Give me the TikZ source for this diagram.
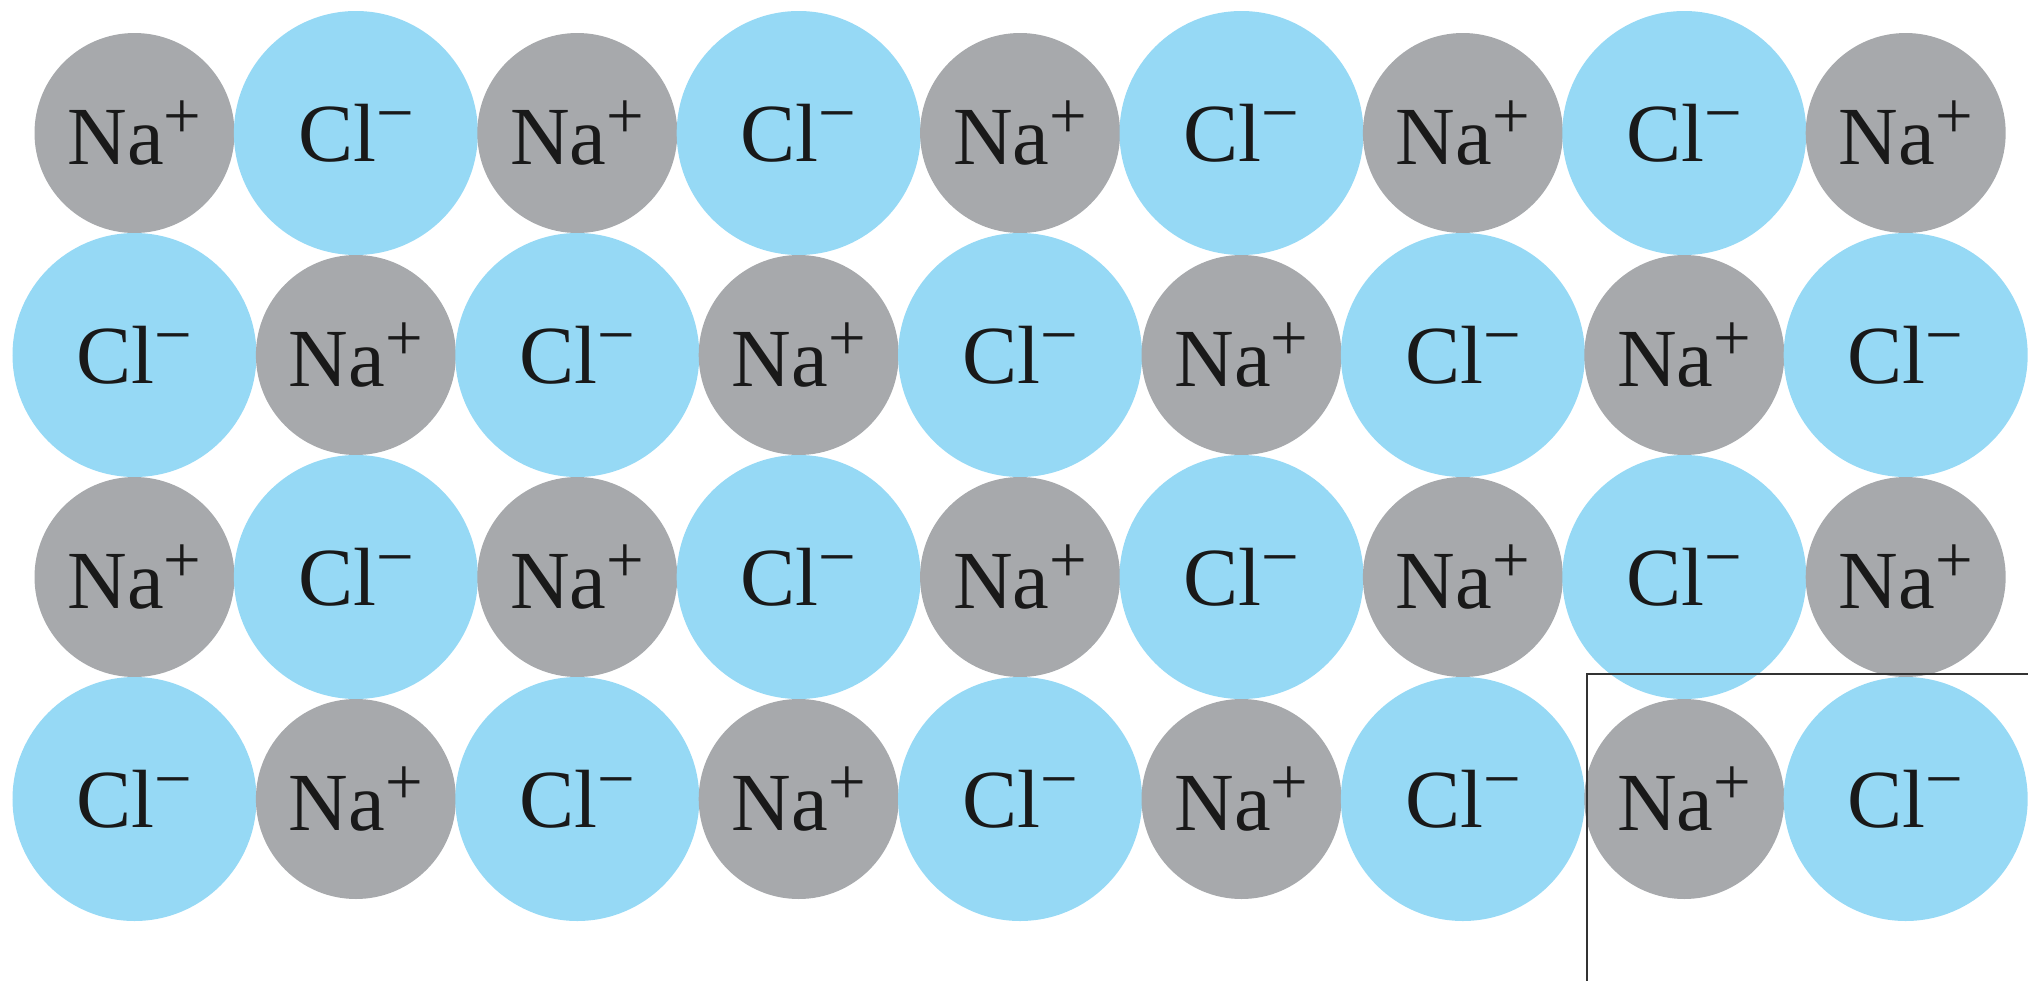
\documentclass[tikz,border=0pt]{standalone}
\usepackage{fontspec}
\setmainfont{Liberation Serif}
\usepackage{tikz}
\usetikzlibrary{calc}

\definecolor{nagray}{RGB}{167,169,172}
\definecolor{clblue}{RGB}{150,217,245}
\newcommand{\ionsup}[1]{\raisebox{0.31em}{\fontsize{19}{19}\selectfont #1}}

\begin{document}
\begin{tikzpicture}[ion_na/.style={circle, fill=nagray, inner sep=0pt, minimum size=2.0cm,
                                   text=black!90, font=\fontsize{23.5}{27}\selectfont},
                    ion_cl/.style={circle, fill=clblue, inner sep=0pt, minimum size=2.44cm,
                                   text=black!90, font=\fontsize{23.5}{27}\selectfont},
                    cell_box/.style={draw=black!80, line width=0.65pt}]

            \useasboundingbox (0,0) rectangle (20.28,-9.81);

            \node[ion_na] (a0) at (1.345,-1.33)  {Na\ionsup{+}};
            \node[ion_cl] (a1) at (3.559,-1.33)  {Cl\ionsup{−}};
            \node[ion_na] (a2) at (5.773,-1.33)  {Na\ionsup{+}};
            \node[ion_cl] (a3) at (7.987,-1.33)  {Cl\ionsup{−}};
            \node[ion_na] (a4) at (10.201,-1.33) {Na\ionsup{+}};
            \node[ion_cl] (a5) at (12.415,-1.33) {Cl\ionsup{−}};
            \node[ion_na] (a6) at (14.629,-1.33) {Na\ionsup{+}};
            \node[ion_cl] (a7) at (16.843,-1.33) {Cl\ionsup{−}};
            \node[ion_na] (a8) at (19.057,-1.33) {Na\ionsup{+}};

            \node[ion_cl] (b0) at (1.345,-3.55)  {Cl\ionsup{−}};
            \node[ion_na] (b1) at (3.559,-3.55)  {Na\ionsup{+}};
            \node[ion_cl] (b2) at (5.773,-3.55)  {Cl\ionsup{−}};
            \node[ion_na] (b3) at (7.987,-3.55)  {Na\ionsup{+}};
            \node[ion_cl] (b4) at (10.201,-3.55) {Cl\ionsup{−}};
            \node[ion_na] (b5) at (12.415,-3.55) {Na\ionsup{+}};
            \node[ion_cl] (b6) at (14.629,-3.55) {Cl\ionsup{−}};
            \node[ion_na] (b7) at (16.843,-3.55) {Na\ionsup{+}};
            \node[ion_cl] (b8) at (19.057,-3.55) {Cl\ionsup{−}};

            \node[ion_na] (c0) at (1.345,-5.77)  {Na\ionsup{+}};
            \node[ion_cl] (c1) at (3.559,-5.77)  {Cl\ionsup{−}};
            \node[ion_na] (c2) at (5.773,-5.77)  {Na\ionsup{+}};
            \node[ion_cl] (c3) at (7.987,-5.77)  {Cl\ionsup{−}};
            \node[ion_na] (c4) at (10.201,-5.77) {Na\ionsup{+}};
            \node[ion_cl] (c5) at (12.415,-5.77) {Cl\ionsup{−}};
            \node[ion_na] (c6) at (14.629,-5.77) {Na\ionsup{+}};
            \node[ion_cl] (c7) at (16.843,-5.77) {Cl\ionsup{−}};
            \node[ion_na] (c8) at (19.057,-5.77) {Na\ionsup{+}};

            \node[ion_cl] (d0) at (1.345,-7.99)  {Cl\ionsup{−}};
            \node[ion_na] (d1) at (3.559,-7.99)  {Na\ionsup{+}};
            \node[ion_cl] (d2) at (5.773,-7.99)  {Cl\ionsup{−}};
            \node[ion_na] (d3) at (7.987,-7.99)  {Na\ionsup{+}};
            \node[ion_cl] (d4) at (10.201,-7.99) {Cl\ionsup{−}};
            \node[ion_na] (d5) at (12.415,-7.99) {Na\ionsup{+}};
            \node[ion_cl] (d6) at (14.629,-7.99) {Cl\ionsup{−}};
            \node[ion_na] (d7) at (16.843,-7.99) {Na\ionsup{+}};
            \node[ion_cl] (d8) at (19.057,-7.99) {Cl\ionsup{−}};

            % open frame round the last pair
            \coordinate (box_nw) at (15.87,-6.74);
            \coordinate (box_ne) at (20.28,-6.74);
            \coordinate (box_sw) at (15.87,-9.81);
            \draw[cell_box] (box_ne) -- (box_nw) -- (box_sw);
        \end{tikzpicture}
\end{document}
